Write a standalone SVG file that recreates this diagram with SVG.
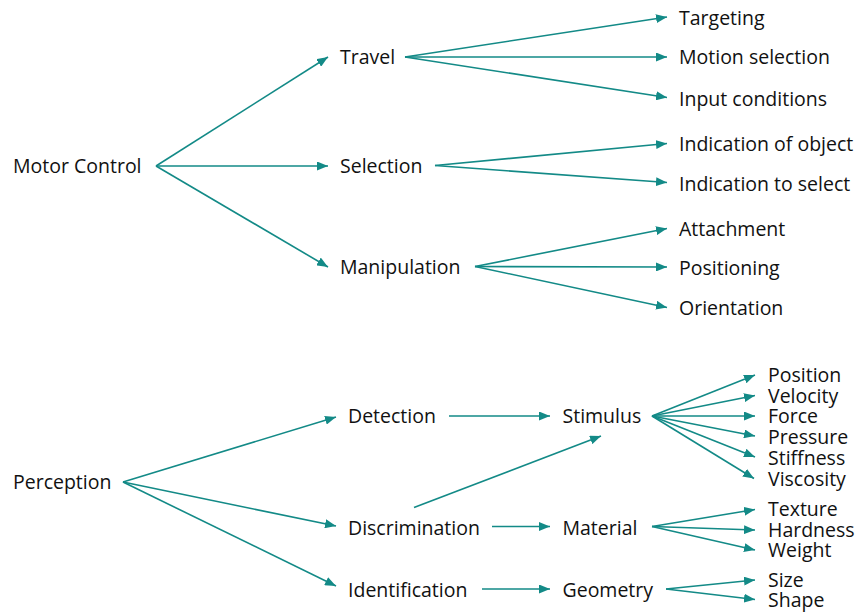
<svg xmlns="http://www.w3.org/2000/svg" width="855" height="612" viewBox="0 0 855 612">
<style>
text{font-family:"Open Sans","Noto Sans","Liberation Sans",sans-serif;font-size:19.5px;fill:#111}
.c line{stroke:#138a87;stroke-width:1.6;fill:none;marker-end:url(#ah)}
</style>
<defs>
<marker id="ah" markerUnits="userSpaceOnUse" markerWidth="11" markerHeight="9" refX="11" refY="4.5" orient="auto">
<path d="M0,0 L11,4.5 L0,9 z" fill="#138a87"/>
</marker>
</defs>
<rect width="855" height="612" fill="#fff"/>
<g id="n-motor"><text x="13" y="173">Motor Control</text></g>
<g id="n-travel"><text x="340" y="64">Travel</text></g>
<g id="n-selection"><text x="340" y="173">Selection</text></g>
<g id="n-manipulation"><text x="340" y="274">Manipulation</text></g>
<g id="n-targeting"><text x="679" y="25">Targeting</text></g>
<g id="n-motionsel"><text x="679" y="64">Motion selection</text></g>
<g id="n-input"><text x="679" y="105.5">Input conditions</text></g>
<g id="n-indobj"><text x="679" y="150.5">Indication of object</text></g>
<g id="n-indsel"><text x="679" y="190.5">Indication to select</text></g>
<g id="n-attach"><text x="679" y="235.5">Attachment</text></g>
<g id="n-position"><text x="679" y="275">Positioning</text></g>
<g id="n-orient"><text x="679" y="315">Orientation</text></g>
<g id="n-perception"><text x="13" y="489">Perception</text></g>
<g id="n-detection"><text x="348" y="423">Detection</text></g>
<g id="n-discrim"><text x="348" y="535">Discrimination</text></g>
<g id="n-ident"><text x="348" y="596.5">Identification</text></g>
<g id="n-stimulus"><text x="562.5" y="423">Stimulus</text></g>
<g id="n-material"><text x="562.5" y="535">Material</text></g>
<g id="n-geometry"><text x="562.5" y="596.5">Geometry</text></g>
<g id="n-pos"><text x="768" y="381.5">Position</text></g>
<g id="n-vel"><text x="768" y="402.5">Velocity</text></g>
<g id="n-force"><text x="768" y="422.5">Force</text></g>
<g id="n-press"><text x="768" y="444">Pressure</text></g>
<g id="n-stiff"><text x="768" y="465">Stiffness</text></g>
<g id="n-visc"><text x="768" y="486">Viscosity</text></g>
<g id="n-texture"><text x="768" y="515.5">Texture</text></g>
<g id="n-hard"><text x="768" y="536.5">Hardness</text></g>
<g id="n-weight"><text x="768" y="557">Weight</text></g>
<g id="n-size"><text x="768" y="586.5">Size</text></g>
<g id="n-shape"><text x="768" y="607">Shape</text></g>
<g class="c" id="connectors">
<line x1="156" y1="166" x2="328" y2="57"/>
<line x1="156" y1="166" x2="328" y2="166"/>
<line x1="156" y1="166" x2="328" y2="267"/>
<line x1="405" y1="57" x2="667" y2="17"/>
<line x1="405" y1="57" x2="667" y2="57"/>
<line x1="405" y1="57" x2="667" y2="97.5"/>
<line x1="435" y1="165.5" x2="667" y2="143.5"/>
<line x1="435" y1="165.5" x2="667" y2="182.5"/>
<line x1="475" y1="266.5" x2="667" y2="228.5"/>
<line x1="475" y1="266.5" x2="667" y2="267"/>
<line x1="475" y1="266.5" x2="667" y2="307.5"/>
<line x1="123" y1="482" x2="336" y2="417"/>
<line x1="123" y1="482" x2="336" y2="526"/>
<line x1="123" y1="482" x2="336" y2="586"/>
<line x1="449" y1="416" x2="550" y2="416"/>
<line x1="414" y1="507.5" x2="601" y2="436"/>
<line x1="492" y1="526.5" x2="550" y2="526.5"/>
<line x1="482" y1="589" x2="550" y2="589"/>
<line x1="652" y1="416" x2="755" y2="375"/>
<line x1="652" y1="416" x2="755" y2="395.5"/>
<line x1="652" y1="416" x2="755" y2="416"/>
<line x1="652" y1="416" x2="755" y2="436"/>
<line x1="652" y1="416" x2="755" y2="457"/>
<line x1="652" y1="416" x2="754" y2="478.5"/>
<line x1="652" y1="526.5" x2="755" y2="509.5"/>
<line x1="652" y1="526.5" x2="755" y2="530"/>
<line x1="652" y1="526.5" x2="755" y2="550"/>
<line x1="666" y1="589" x2="755" y2="580"/>
<line x1="666" y1="589" x2="755" y2="599.5"/>
</g>
</svg>
